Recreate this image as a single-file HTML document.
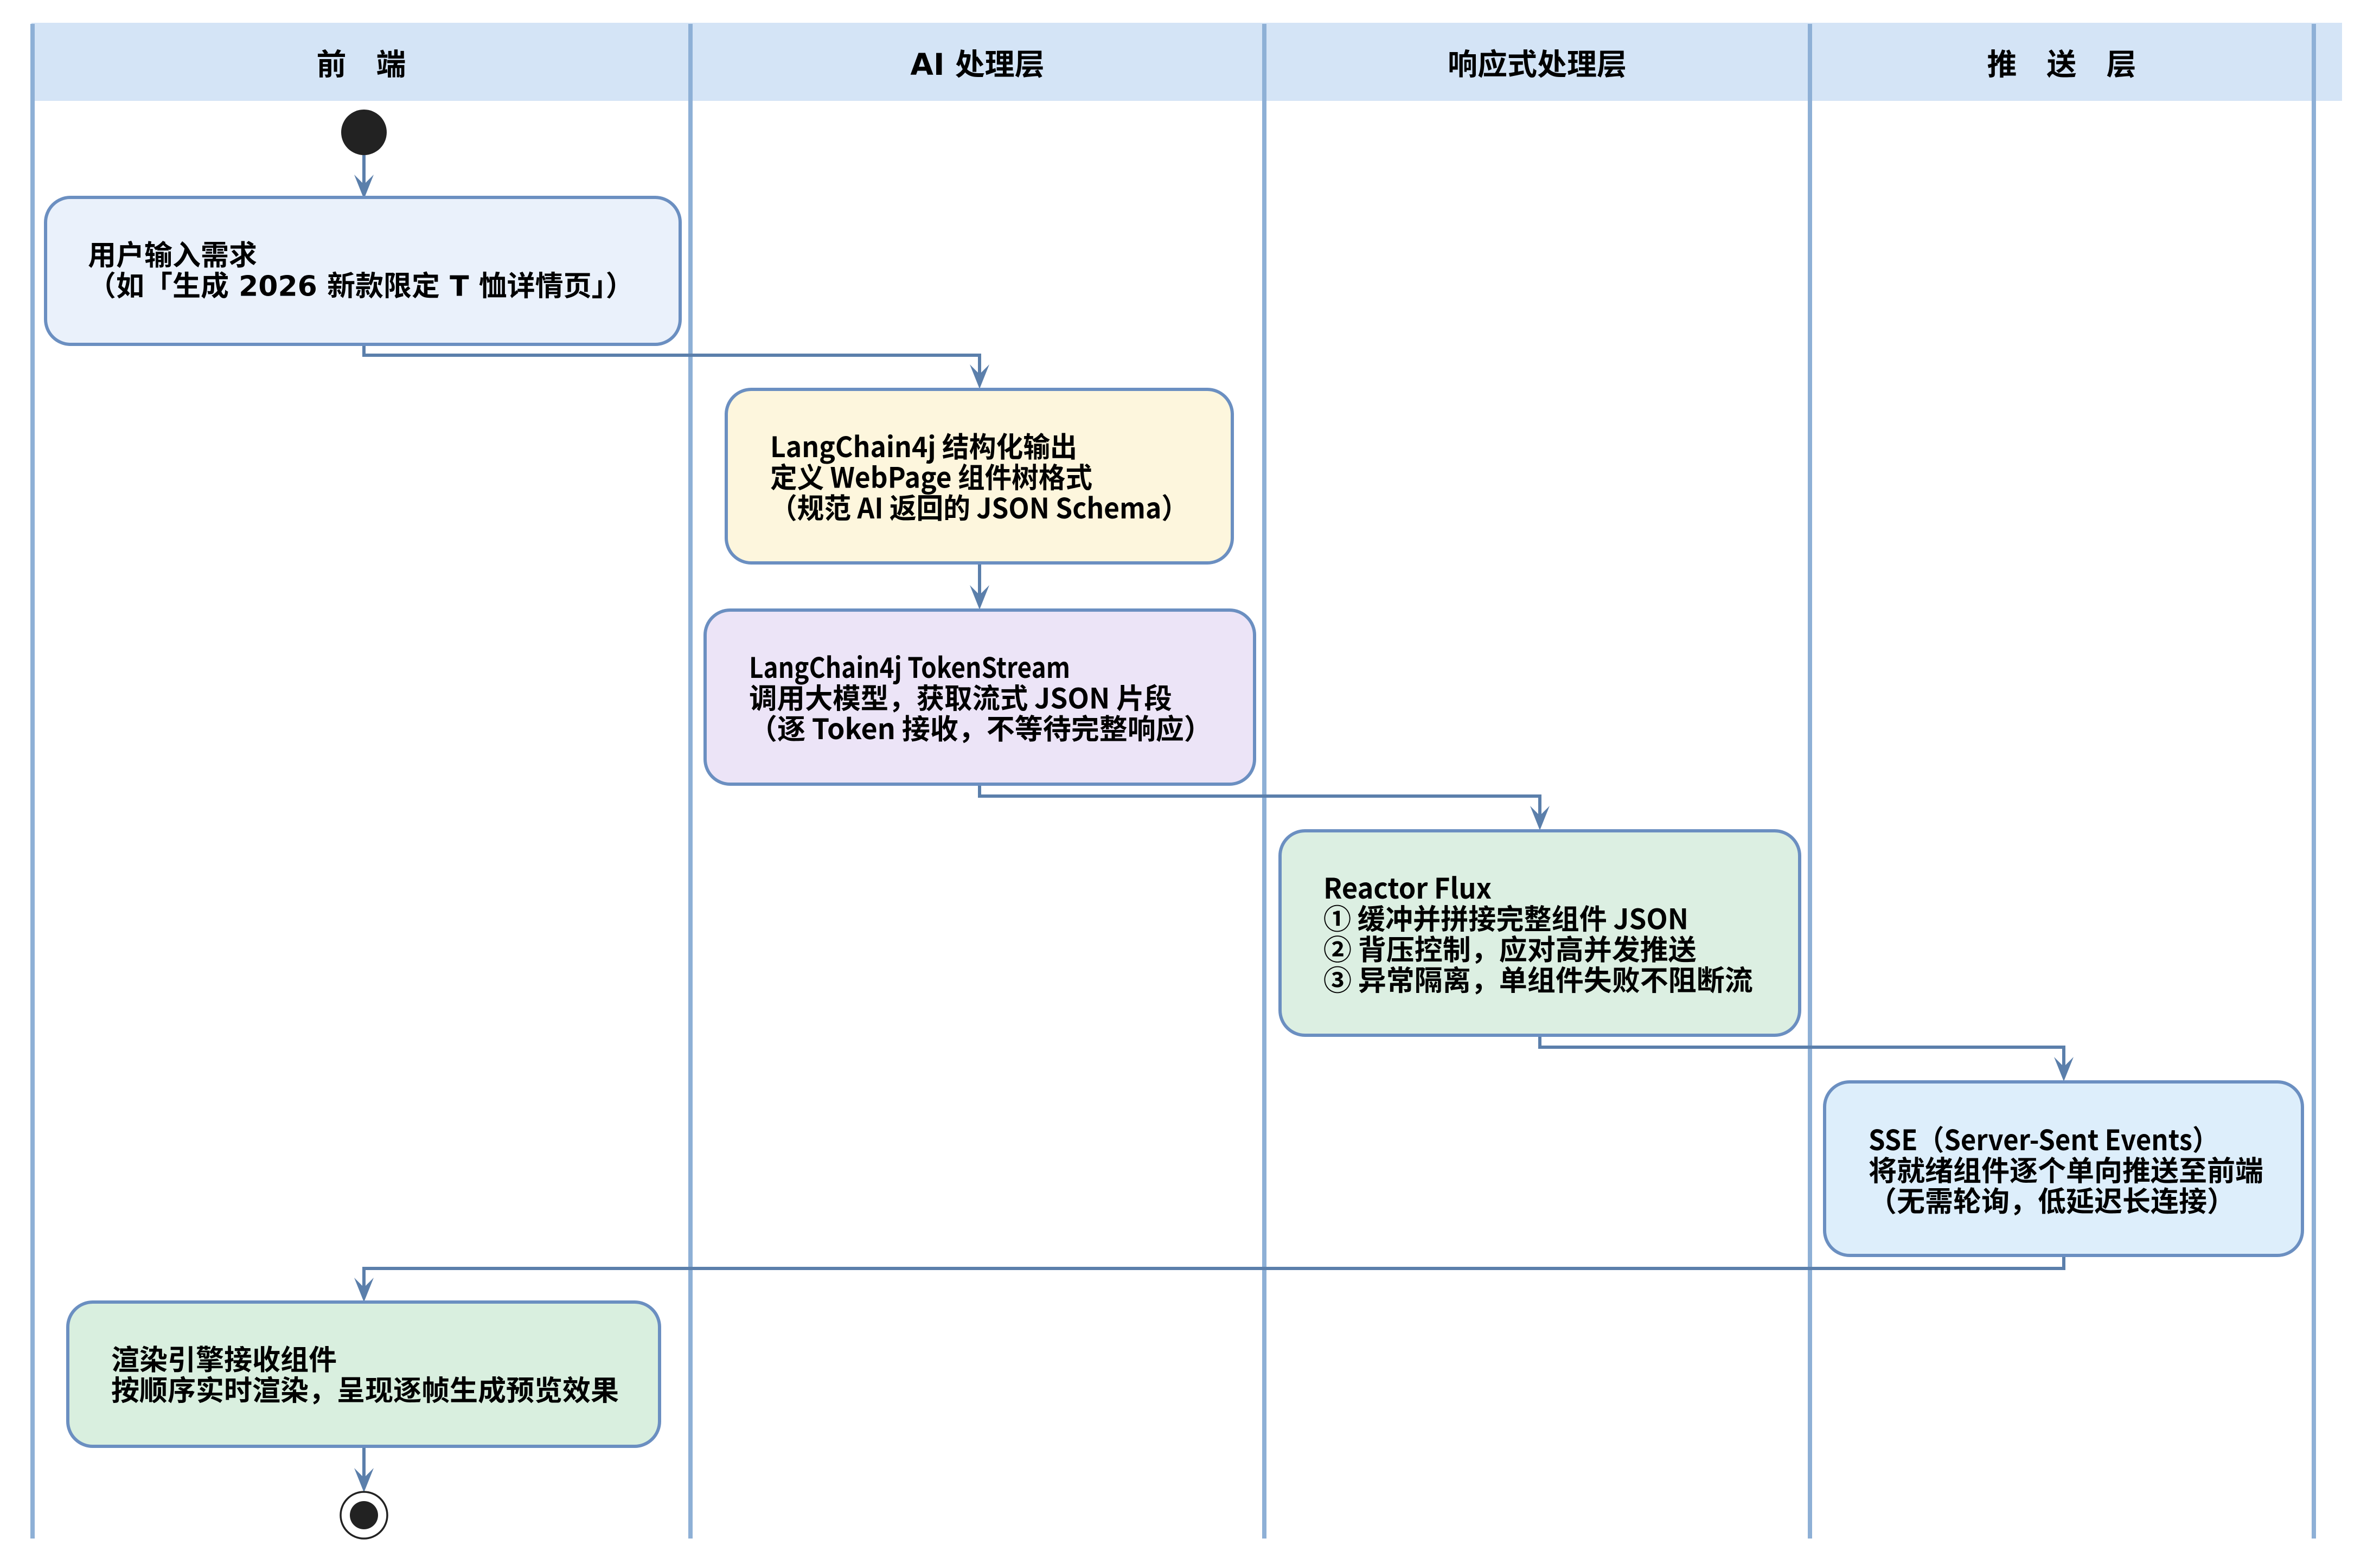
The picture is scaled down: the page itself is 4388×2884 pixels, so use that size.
<!DOCTYPE html>
<html>
<head>
<meta charset="utf-8">
<style>
  html, body { margin: 0; padding: 0; background: #ffffff; }
  svg { display: block; }
  .t { font-family: "Noto Sans CJK SC", "Liberation Sans", sans-serif; font-weight: 700; fill: #000; }
  .box { font-size: 52px; }
  .hdr { font-size: 55px; }
  .dv { font-family: "DejaVu Sans", "Liberation Sans", sans-serif; }
</style>
</head>
<body>
<svg width="4388" height="2884" viewBox="0 0 4388 2884" xmlns="http://www.w3.org/2000/svg">
  <rect x="0" y="0" width="4388" height="2884" fill="#ffffff"/>

  <!-- header band -->
  <rect x="58" y="42" width="4260" height="144" fill="#d4e4f6"/>

  <!-- lane lines -->
  <g stroke="#8eb0d6" stroke-width="8">
    <line x1="60" y1="44" x2="60" y2="2837"/>
    <line x1="1273" y1="44" x2="1273" y2="2837"/>
    <line x1="2331" y1="44" x2="2331" y2="2837"/>
    <line x1="3337" y1="44" x2="3337" y2="2837"/>
    <line x1="4266" y1="44" x2="4266" y2="2837"/>
  </g>

  <!-- header text -->
  <g class="t hdr" text-anchor="middle">
    <text x="666" y="138">前　端</text>
    <text x="1802" y="138"><tspan class="dv">AI </tspan>处理层</text>
    <text x="2834" y="138">响应式处理层</text>
    <text x="3801" y="138">推　送　层</text>
  </g>

  <!-- start node -->
  <circle cx="671" cy="244" r="42" fill="#222222"/>

  <!-- connectors -->
  <g fill="none" stroke="#5b7fab" stroke-width="6">
    <path d="M671 286 V345"/>
    <path d="M671 638 V655 H1806 V700"/>
    <path d="M1806 1041 V1105"/>
    <path d="M1806 1449 V1468 H2839 V1512"/>
    <path d="M2839 1912 V1931 H3805 V1975"/>
    <path d="M3805 2318 V2339 H671 V2382"/>
    <path d="M671 2670 V2732"/>
  </g>
  <!-- arrowheads -->
  <g fill="#5b7fab">
    <polygon points="671,367 653,322 671,340 689,322"/>
    <polygon points="1806,717 1788,672 1806,690 1824,672"/>
    <polygon points="1806,1124 1788,1079 1806,1097 1824,1079"/>
    <polygon points="2839,1531 2821,1486 2839,1504 2857,1486"/>
    <polygon points="3805,1994 3787,1949 3805,1967 3823,1949"/>
    <polygon points="671,2401 653,2356 671,2374 689,2356"/>
    <polygon points="671,2752 653,2707 671,2725 689,2707"/>
  </g>

  <!-- boxes -->
  <g stroke="#6b8fc1" stroke-width="6">
    <rect x="84" y="364" width="1170" height="271" rx="46" ry="46" fill="#eaf1fb"/>
    <rect x="1339" y="718" width="933" height="320" rx="46" ry="46" fill="#fdf6dd"/>
    <rect x="1300" y="1125" width="1013" height="321" rx="46" ry="46" fill="#ece4f7"/>
    <rect x="2360" y="1532" width="958" height="377" rx="46" ry="46" fill="#dcefe2"/>
    <rect x="3364" y="1995" width="881" height="320" rx="46" ry="46" fill="#ddeefb"/>
    <rect x="125" y="2401" width="1091" height="266" rx="46" ry="46" fill="#d9efdf"/>
  </g>

  <!-- box texts -->
  <g class="t box">
    <text x="162" y="489">用户输入需求</text>
    <text x="162" y="545.5">（如「生成<tspan class="dv"> 2026 </tspan>新款限定<tspan class="dv"> T </tspan>恤详情页」）</text>

    <text x="1420" y="843" textLength="566" lengthAdjust="spacingAndGlyphs">LangChain4j 结构化输出</text>
    <text x="1420" y="899.5" textLength="594" lengthAdjust="spacingAndGlyphs">定义 WebPage 组件树格式</text>
    <text x="1420" y="956" textLength="771" lengthAdjust="spacingAndGlyphs">（规范 AI 返回的 JSON Schema）</text>

    <text x="1381" y="1250" textLength="592" lengthAdjust="spacingAndGlyphs">LangChain4j TokenStream</text>
    <text x="1381" y="1306.5" textLength="780" lengthAdjust="spacingAndGlyphs">调用大模型，获取流式 JSON 片段</text>
    <text x="1381" y="1363">（逐 Token 接收，不等待完整响应）</text>

    <text x="2440" y="1657" textLength="310" lengthAdjust="spacingAndGlyphs">Reactor Flux</text>
    <text x="2440" y="1713.5" textLength="673" lengthAdjust="spacingAndGlyphs">① 缓冲并拼接完整组件 JSON</text>
    <text x="2440" y="1770">② 背压控制，应对高并发推送</text>
    <text x="2440" y="1826.5">③ 异常隔离，单组件失败不阻断流</text>

    <text x="3445" y="2121" textLength="646" lengthAdjust="spacingAndGlyphs">SSE（Server-Sent Events）</text>
    <text x="3445" y="2177.5">将就绪组件逐个单向推送至前端</text>
    <text x="3445" y="2234">（无需轮询，低延迟长连接）</text>

    <text x="205" y="2526">渲染引擎接收组件</text>
    <text x="205" y="2582.5">按顺序实时渲染，呈现逐帧生成预览效果</text>
  </g>

  <!-- end node -->
  <circle cx="671" cy="2794" r="43" fill="#ffffff" stroke="#222222" stroke-width="3.5"/>
  <circle cx="671" cy="2794" r="26" fill="#222222"/>
</svg>
</body>
</html>
